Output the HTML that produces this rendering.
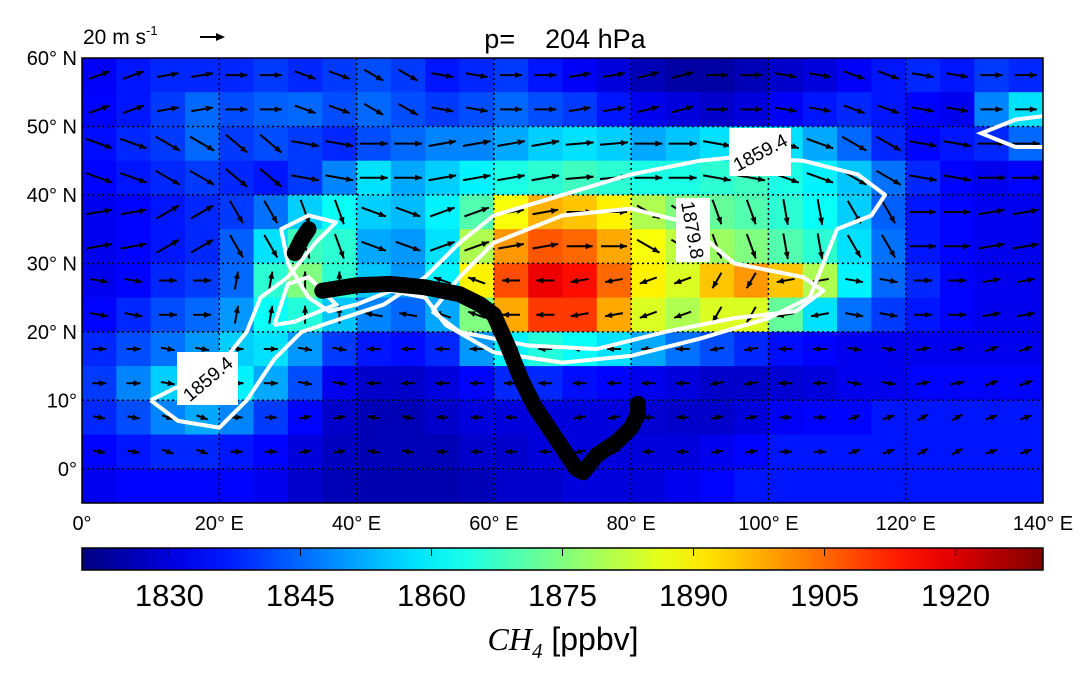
<!DOCTYPE html>
<html><head><meta charset="utf-8"><style>
body{margin:0;background:#fff;width:1091px;height:677px;overflow:hidden;font-family:"Liberation Sans",sans-serif}
</style></head><body>
<svg id="c" width="1091" height="677" xmlns="http://www.w3.org/2000/svg"></svg>
<script>
const lonCenters=[2.5,7.5,12.5,17.5,22.5,27.5,32.5,37.5,42.5,47.5,52.5,57.5,62.5,67.5,72.5,77.5,82.5,87.5,92.5,97.5,102.5,107.5,112.5,117.5,122.5,127.5,132.5,137.5];
const latCenters=[57.5,52.5,47.5,42.5,37.5,32.5,27.5,22.5,17.5,12.5,7.5,2.5,-2.5];
const ch4Rows=[
[1833,1836,1838,1838,1838,1840,1838,1840,1842,1840,1836,1838,1840,1836,1833,1830,1826,1824,1824,1826,1828,1830,1833,1836,1838,1836,1840,1838],
[1834,1836,1840,1845,1842,1844,1845,1842,1845,1842,1840,1842,1845,1842,1840,1836,1832,1830,1828,1830,1833,1836,1838,1836,1834,1832,1848,1858],
[1835,1838,1840,1845,1840,1842,1840,1838,1842,1845,1848,1848,1852,1856,1858,1856,1852,1855,1858,1860,1858,1852,1845,1838,1834,1836,1838,1845],
[1834,1836,1838,1840,1838,1836,1840,1848,1858,1852,1856,1860,1864,1866,1868,1866,1864,1864,1866,1868,1864,1860,1855,1846,1838,1834,1832,1834],
[1832,1834,1836,1838,1840,1846,1856,1862,1856,1854,1860,1870,1888,1897,1895,1890,1880,1875,1872,1870,1866,1862,1856,1844,1836,1834,1832,1832],
[1832,1834,1836,1838,1844,1858,1868,1866,1852,1850,1858,1880,1900,1907,1905,1898,1888,1882,1878,1875,1870,1866,1858,1846,1836,1834,1832,1832],
[1832,1834,1838,1840,1845,1866,1875,1866,1855,1850,1860,1890,1908,1918,1915,1905,1890,1885,1895,1900,1895,1880,1860,1845,1838,1834,1832,1832],
[1834,1838,1842,1845,1850,1862,1865,1855,1848,1845,1852,1875,1898,1910,1910,1898,1885,1880,1885,1885,1872,1858,1846,1840,1836,1834,1832,1832],
[1838,1842,1846,1850,1856,1858,1850,1840,1836,1835,1838,1850,1860,1865,1862,1858,1852,1846,1842,1838,1835,1834,1832,1832,1832,1832,1832,1832],
[1840,1848,1856,1860,1860,1852,1842,1832,1828,1828,1830,1834,1838,1838,1835,1834,1832,1830,1828,1828,1829,1830,1832,1832,1834,1834,1834,1834],
[1838,1842,1848,1852,1848,1840,1834,1828,1826,1826,1828,1830,1830,1830,1830,1830,1829,1828,1828,1830,1833,1834,1834,1836,1836,1836,1836,1836],
[1834,1836,1838,1838,1836,1834,1830,1827,1826,1826,1826,1828,1828,1830,1830,1830,1830,1830,1832,1834,1836,1836,1836,1836,1836,1836,1836,1836],
[1832,1834,1834,1834,1834,1832,1828,1826,1825,1825,1825,1826,1828,1828,1830,1830,1830,1832,1834,1836,1836,1836,1836,1836,1836,1836,1836,1836]];
const contourOuterLon=[10,14,20,24,28,32,38,44,50,55,60,70,80,90,95,105,113,117,115,110,108,106,100,90,80,70,60,53,50,45,40,36,33,30,29,33,37,34,30,26,24,20,14,10];
const contourOuterLat=[10,7,6,10,16,20,22,24,28,33,37,40,43,45,45.5,45,43,40,37,35,30,25,22,19,16.5,15.5,17,21,25,26,24,23,25,30,35,37,36,33,28,25,20,15,12,10];
const contourInnerLon=[51,55,60,70,80,88,95,105,108,104,95,85,75,65,55,51];
const contourInnerLat=[23,28,33,37,38,36,30,28,26,23,22,20,17.5,18,20,23];
const contourSmallLon=[28,30,33,37,31,28];
const contourSmallLat=[21,27,28,24,21.5,21];
const contourNELon=[140,136,131,136,140];
const contourNELat=[51.5,51,49,47,47];
const trajLon=[35,40,45,50,55,58,60,62,64,66,68,70,72,73,75,78,80,81,81];
const trajLat=[26,26.8,27,26.5,25.5,24,22.5,18,13,9,6,3,0,-0.5,2,4,6,8,9.5];
const traj2Lon=[31,32,33];
const traj2Lat=[31.5,33.5,35];
const lonTicks=[0,20,40,60,80,100,120,140];
const lonTickLabels=["0°","20° E","40° E","60° E","80° E","100° E","120° E","140° E"];
const latTicks=[60,50,40,30,20,10,0];
const latTickLabels=["60° N","50° N","40° N","30° N","20° N","10°","0°"];
const cbTicks=[1830,1845,1860,1875,1890,1905,1920];
const windLat=[55,45,35,25,15,5];
const windLon=[5,15,25,35,45,55,65,75,85,95,105,115,125,135];
const windAngle=[
[20,10,0,-20,-30,-10,0,10,15,0,-10,-20,-10,0],
[-20,-30,-40,-10,0,10,10,5,0,-10,-20,-30,-10,0],
[10,30,-60,-70,-20,20,10,0,-30,-70,-80,-60,0,10],
[-10,0,80,90,170,160,180,190,200,-120,-170,-10,0,10],
[0,-10,0,-10,180,180,180,180,180,190,180,-10,10,20],
[-10,-20,0,10,170,180,180,190,180,10,0,20,30,20]];
const windLen=[22,28,26,18,14,12];

const NS="http://www.w3.org/2000/svg",svg=document.getElementById('c');
const X0=82,X1=1043,Y0=58,Y1=503;
const x=lon=>X0+(lon-0)/140*(X1-X0);
const y=lat=>Y0+(60-lat)/65*(Y1-Y0);
const VMIN=1820,VMAX=1930,CB0=82,CB1=1043;
const cbx=v=>CB0+(v-VMIN)/(VMAX-VMIN)*(CB1-CB0);
function jet(t){t=Math.max(0,Math.min(1,t));
 const f=v=>Math.round(255*Math.max(0,Math.min(1,v)));
 return `rgb(${f(1.5-Math.abs(4*t-3))},${f(1.5-Math.abs(4*t-2))},${f(1.5-Math.abs(4*t-1))})`;}
function mk(tag,attrs,parent){const e=document.createElementNS(NS,tag);for(const k in attrs)e.setAttribute(k,attrs[k]);(parent||svg).appendChild(e);return e;}
const cells=mk('g',{});


latCenters.forEach((la,i)=>lonCenters.forEach((lo,j)=>{
 const r=mk('rect',{x:x(lo-2.5),y:y(Math.min(60,la+2.5)),width:x(lo+2.5)-x(lo-2.5)+0.5,height:y(la-2.5)-y(Math.min(60,la+2.5))+0.5,fill:jet((ch4Rows[i][j]-VMIN)/(VMAX-VMIN))},cells);
 
 
}));
lonTicks.slice(1,-1).forEach(lo=>{const l=mk('line',{x1:x(lo),x2:x(lo),y1:Y0,y2:Y1,stroke:'#000','stroke-dasharray':'2,3','stroke-width':1.5});
 });
latTicks.slice(1).forEach(la=>{const l=mk('line',{x1:X0,x2:X1,y1:y(la),y2:y(la),stroke:'#000','stroke-dasharray':'2,3','stroke-width':1.5});
 });
const wg=mk('g',{});

windLat.forEach((la,i)=>windLon.forEach((lo,j)=>{
 for(let di=0;di<2;di++)for(let dj=0;dj<2;dj++){
  const cx=x(lo-2.5+dj*5),cy=y(la+2.5-di*5),a=windAngle[i][j]*Math.PI/180,L=windLen[i];
  const dx=Math.cos(a)*L,dy=-Math.sin(a)*L,ux=dx/L,uy=dy/L;
  const ln=mk('line',{x1:cx-dx/2,y1:cy-dy/2,x2:cx+dx/2,y2:cy+dy/2,stroke:'#000','stroke-width':2},wg);
  
  const hx=cx+dx/2,hy=cy+dy/2;
  const hp=mk('polygon',{points:`${hx},${hy} ${hx-ux*7-uy*3},${hy-uy*7+ux*3} ${hx-ux*7+uy*3},${hy-uy*7-ux*3}`,fill:'#000'},wg);
  
 }}));
function poly(lons,lats,attrs,name){const p=mk('polyline',Object.assign({points:lons.map((lo,i)=>x(lo)+','+y(lats[i])).join(' '),fill:'none'},attrs));
 }
poly(contourOuterLon,contourOuterLat,{stroke:'#fff','stroke-width':4,'stroke-linejoin':'round'},'contour-1859-4');
poly(contourInnerLon,contourInnerLat,{stroke:'#fff','stroke-width':4,'stroke-linejoin':'round'},'contour-1879-8');
poly(contourSmallLon,contourSmallLat,{stroke:'#fff','stroke-width':4},'contour-1879-8-west');
poly(contourNELon,contourNELat,{stroke:'#fff','stroke-width':4},'contour-1859-4-northeast');
poly(trajLon,trajLat,{stroke:'#000','stroke-width':16,'stroke-linecap':'round','stroke-linejoin':'round'},'trajectory');
poly(traj2Lon,traj2Lat,{stroke:'#000','stroke-width':16,'stroke-linecap':'round'},'trajectory-start');
function clabel(bx,by,w,h,rot,txt){const g=mk('g',{});
 
 mk('rect',{x:bx,y:by,width:w,height:h,fill:'#fff'},g);
 const t=mk('text',{x:0,y:7,'text-anchor':'middle','font-size':19,transform:`translate(${bx+w/2},${by+h/2}) rotate(${rot})`},g);t.textContent=txt;}
clabel(177,352,61,53,-40,'1859.4');
clabel(729,128,62,48,-28,'1859.4');
clabel(676,198,34,64,80,'1879.8');
const fr=mk('rect',{x:X0,y:Y0,width:X1-X0,height:Y1-Y0,fill:'none',stroke:'#000','stroke-width':1.5});

lonTicks.forEach((lo,i)=>{const t=mk('text',{x:x(lo),y:530,'text-anchor':'middle','font-size':20});t.textContent=lonTickLabels[i];
 });
latTicks.forEach((la,i)=>{const t=mk('text',{x:77,y:y(la)+7,'text-anchor':'end','font-size':20});t.textContent=latTickLabels[i];
 });
const tt=mk('text',{x:565,y:48,'text-anchor':'middle','font-size':27,style:'white-space:pre'});tt.textContent='p=    204 hPa';

const ref=mk('text',{x:83,y:44,'font-size':21});ref.innerHTML='20 m s<tspan font-size="13" dy="-9">-1</tspan>';

const ra=mk('g',{});
mk('line',{x1:200,y1:37,x2:218,y2:37,stroke:'#000','stroke-width':2},ra);
mk('polygon',{points:'225,37 216,33 216,41',fill:'#000'},ra);
const defs=mk('defs',{});const lg=mk('linearGradient',{id:'jet',x1:0,x2:1,y1:0,y2:0},defs);
for(let k=0;k<=20;k++)mk('stop',{offset:k/20,'stop-color':jet(k/20)},lg);
const cb=mk('rect',{x:CB0,y:548,width:CB1-CB0,height:22,fill:'url(#jet)',stroke:'#000','stroke-width':1.5});

cbTicks.forEach(v=>{const l=mk('line',{x1:cbx(v),x2:cbx(v),y1:548,y2:556,stroke:'#000'});
 const t=mk('text',{x:cbx(v),y:606,'text-anchor':'middle','font-size':31});t.textContent=v;
 });
const ct=mk('text',{x:563,y:650,'text-anchor':'middle','font-size':32});
ct.innerHTML='<tspan font-family="Liberation Serif" font-style="italic">CH<tspan font-size="21" dy="8">4</tspan></tspan><tspan dy="-8"> [ppbv]</tspan>';

</script>
</body></html>
